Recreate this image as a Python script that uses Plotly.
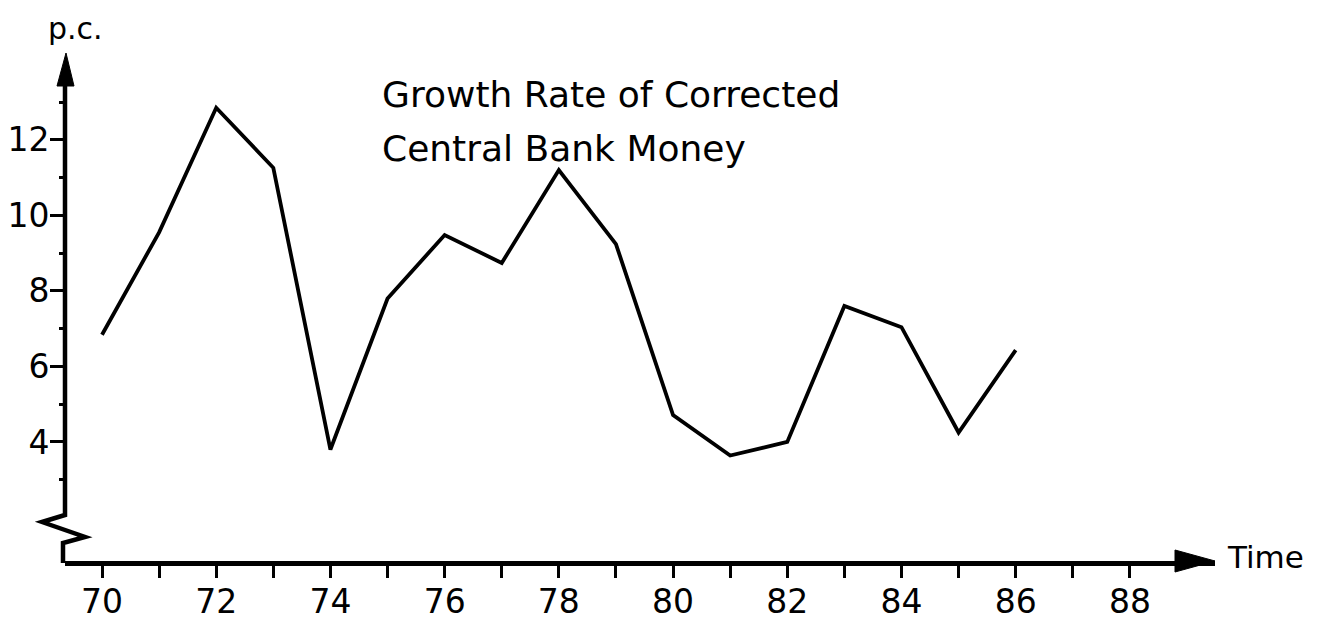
import plotly.graph_objects as go

# Growth rate of corrected central bank money, p.c.
years = [70, 71, 72, 73, 74, 75, 76, 77, 78, 79, 80, 81, 82, 83, 84, 85, 86]
growth = [6.84, 9.55, 12.85, 11.26, 3.8, 7.8, 9.48, 8.74, 11.2, 9.24,
          4.71, 3.64, 4.0, 7.6, 7.04, 4.25, 6.43]

x_major = [70, 72, 74, 76, 78, 80, 82, 84, 86, 88]
x_minor = [71, 73, 75, 77, 79, 81, 83, 85, 87]
y_major = [4, 6, 8, 10, 12]
y_minor = [3, 5, 7, 9, 11, 13]

title_lines = ["Growth Rate of Corrected", "Central Bank Money"]

# page body has an 8px margin, so the figure is shifted by OFF
OFF = 8
W, H = 1318 - OFF, 629 - OFF
L, R, T, B = 65 - OFF, 103, 53 - OFF, 68
pw, ph = W - L - R, H - T - B


def px(xp):
    return (xp - OFF - L) / pw


def py(yp):
    return (H - B - (yp - OFF)) / ph


font = "DejaVu Sans"

fig = go.Figure()
fig.add_trace(go.Scatter(
    x=years, y=growth, mode="lines",
    line={"color": "black", "width": 3.8},
    hoverinfo="skip", showlegend=False,
))

fig.update_layout(
    width=W, height=H,
    margin={"l": L, "r": R, "t": T, "b": B, "autoexpand": False},
    paper_bgcolor="white", plot_bgcolor="white",
    font={"family": font, "color": "black", "size": 33},
    showlegend=False,
)

fig.update_xaxes(
    range=[69.352, 89.49], showgrid=False, zeroline=False, automargin=False,
    showline=True, linewidth=4.5, linecolor="black",
    ticks="outside", ticklen=12, tickwidth=3, tickcolor="black",
    tickmode="array", tickvals=x_major, ticktext=[str(v) for v in x_major],
    tickfont={"size": 33}, ticklabelstandoff=-4,
    minor={"tickvals": x_minor, "ticks": "outside", "ticklen": 12,
           "tickwidth": 3, "tickcolor": "black"},
)
fig.update_yaxes(
    range=[0.848, 14.30], showgrid=False, zeroline=False, showline=False,
    automargin=False,
    ticks="outside", ticklen=14, tickwidth=3, tickcolor="black",
    tickmode="array", tickvals=y_major, ticktext=[str(v) for v in y_major],
    tickfont={"size": 33}, ticklabelstandoff=-6,
    minor={"tickvals": y_minor, "ticks": "outside", "ticklen": 5,
           "tickwidth": 3, "tickcolor": "black"},
)

# y axis line with the break zigzag
fig.add_shape(
    type="path", xref="paper", yref="paper",
    xsizemode="pixel", ysizemode="pixel", xanchor=0, yanchor=0,
    path="M0,478 L0,46 L-23,39 L20,24 L-2,18 L-2,-2",
    line={"color": "black", "width": 4.5},
)
# arrow heads
fig.add_shape(
    type="path", xref="paper", yref="paper",
    xsizemode="pixel", ysizemode="pixel", xanchor=0, yanchor=1,
    path="M1,0 L-8,-33 L9,-33 Z",
    fillcolor="black", line={"color": "black", "width": 1},
)
fig.add_shape(
    type="path", xref="paper", yref="paper",
    xsizemode="pixel", ysizemode="pixel", xanchor=1, yanchor=0,
    path="M0,0 L-40,11 L-40,-11 Z",
    fillcolor="black", line={"color": "black", "width": 1},
)

fig.add_annotation(x=px(380), y=py(95), xref="paper", yref="paper",
                   text=title_lines[0], showarrow=False,
                   xanchor="left", yanchor="middle", font={"size": 36})
fig.add_annotation(x=px(380), y=py(148), xref="paper", yref="paper",
                   text=title_lines[1], showarrow=False,
                   xanchor="left", yanchor="middle", font={"size": 36})
fig.add_annotation(x=px(46), y=py(28), xref="paper", yref="paper",
                   text="p.c.", showarrow=False,
                   xanchor="left", yanchor="middle", font={"size": 30})
fig.add_annotation(x=px(1225), y=py(557), xref="paper", yref="paper",
                   text="Time", showarrow=False,
                   xanchor="left", yanchor="middle", font={"size": 31})

fig.write_html("out.html")
